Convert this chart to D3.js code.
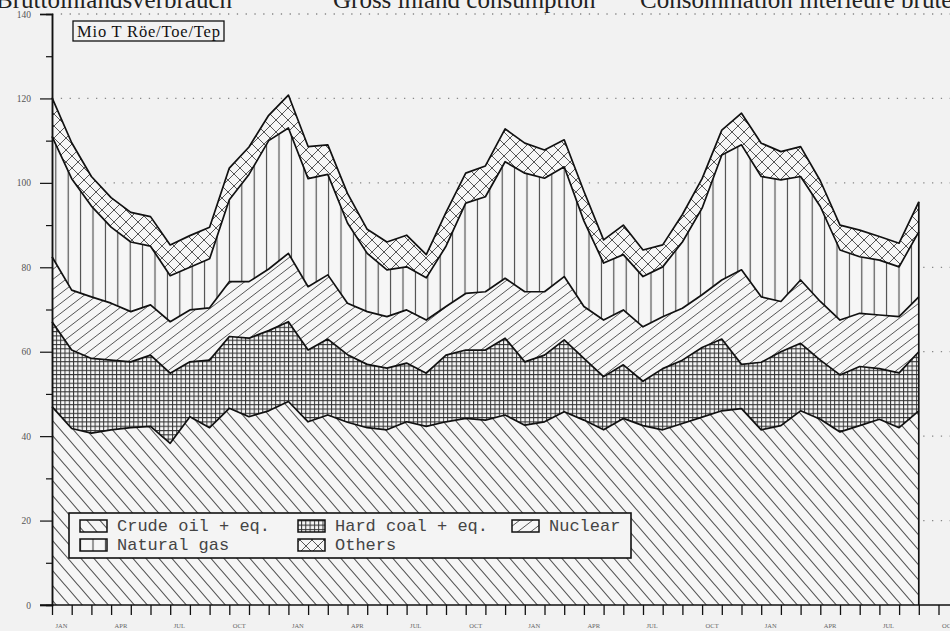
<!DOCTYPE html>
<html>
<head>
<meta charset="utf-8">
<script src="https://cdn.jsdelivr.net/npm/d3@7"></script>
<style>
  html, body { margin: 0; padding: 0; background: #f2f2f2; }
  svg { display: block; }
</style>
</head>
<body>
<svg id="chart" width="950" height="631"></svg>
<script>
// ---------- data ----------
const tickLabels = ["JAN","APR","JUL","OCT","JAN","APR","JUL","OCT","JAN","APR","JUL","OCT","JAN","APR","JUL","OCT"];
const seriesNames = ["Crude oil + eq.", "Hard coal + eq.", "Nuclear", "Natural gas", "Others"];
const crudeOil = [47,41.8,40.7,41.5,42,42.3,38.3,44.6,42,46.6,44.6,46,48.2,43.4,45,43.3,42,41.5,43.4,42.3,43.4,44.2,43.8,45,42.6,43.4,45.8,43.8,41.5,44.2,42.5,41.5,43,44.5,46,46.5,41.5,42.5,46,44,41,42.5,44,42,46];
const hardCoal = [20.1,18.6,17.7,16.5,15.6,16.9,16.6,13,16,17,18.6,19,18.9,17,18,16,15,14.6,13.9,12.6,15.8,16.2,16.6,18.2,15,15.8,17,14.6,12.6,12.7,10.5,14.5,15,16.5,17,10.5,16,17.5,16,14,13.5,14,12,13,14];
const nuclear = [15.4,14.2,14.6,13.5,11.9,11.9,12.2,12.3,12.4,13,13.4,14.6,16.2,15,15.2,12.2,12.5,12.2,12.6,12.6,11.5,13.4,13.8,14.2,16.6,15,15,12.3,13.4,13,12.9,12.3,12.3,12.5,14,22.4,15.5,11.9,15,13.9,13,12.6,12.7,13.3,13];
const naturalGas = [28.5,26.4,21.5,18,16.5,13.9,10.9,10.1,11.6,19.4,25.4,30.4,29.7,25.6,23.8,19,13.8,11.1,10.2,10,14.3,21.4,22.5,27.6,28.1,26.9,26,20.3,13.5,13.1,11.9,11.8,15.7,20.5,29.6,29.6,28.5,28.8,24.5,22.5,16.6,13.4,13,11.8,15.4];
const others = [9.2,8.5,7,7,7,7,7.3,7.5,7.5,7.5,6.5,6,7.8,7.6,7,7,5.7,6.6,7.5,5.5,8,7.1,7.3,7.8,7.1,6.7,6.4,7,5.5,7,6.3,5.2,6.5,7,5.9,7.5,7.9,6.7,7.1,6.1,5.9,6.3,5.6,5.6,7.1];
const yMajorTicks = [0,20,40,60,80,100,120,140];
const yMinorTicks = [10,30,50,70,90,110,130];
const unitLabel = "Mio T Röe/Toe/Tep";
const titles = ["Bruttoinlandsverbrauch", "Gross inland consumption", "Consommation intérieure brute"];

// ---------- build ----------
const table = crudeOil.map((d, i) => ({
  i,
  "Crude oil + eq.": crudeOil[i],
  "Hard coal + eq.": hardCoal[i],
  "Nuclear": nuclear[i],
  "Natural gas": naturalGas[i],
  "Others": others[i]
}));

const svg = d3.select("#chart");
const BG = "#f2f2f2";
const AREA_BG = "#f6f6f6";

const x = d3.scaleLinear().domain([0, 46]).range([52, 52 + 19.7 * 46]);
const y = d3.scaleLinear().domain([0, 140]).range([605, 14]);

// patterns
const defs = svg.append("defs");
function pattern(id, w, h, d, stroke, sw) {
  const p = defs.append("pattern").attr("id", id)
    .attr("patternUnits", "userSpaceOnUse").attr("width", w).attr("height", h);
  p.append("rect").attr("width", w).attr("height", h).attr("fill", AREA_BG);
  p.append("path").attr("d", d).attr("stroke", stroke).attr("stroke-width", sw).attr("fill", "none");
}
{
  const w = 13, h = 15; // "\" lines
  pattern("p-crude", w, h, `M${-w},${-h}L${2*w},${2*h}M0,${-h}L${2*w},${h}M${-w},0L${w},${2*h}`, "#555", 1.1);
}
{
  const s = 4.3;
  pattern("p-coal", s, s, `M0,0.5L${s},0.5M0.5,0L0.5,${s}`, "#333", 1.0);
}
{
  const w = 13, h = 10; // "/" lines
  pattern("p-nuc", w, h, `M${-w},${2*h}L${2*w},${-h}M${-w},${h}L${w},${-h}M0,${2*h}L${2*w},0`, "#555", 1.0);
}
{
  const w = 12.4, h = 10;
  pattern("p-gas", w, h, `M${w/2},0L${w/2},${h}`, "#444", 1.1);
}
{
  const s = 12;
  pattern("p-oth", s, s, `M${-s},${-s}L${2*s},${2*s}M0,${-s}L${2*s},${s}M${-s},0L${s},${2*s}` +
    `M${-s},${2*s}L${2*s},${-s}M${-s},${s}L${s},${-s}M0,${2*s}L${2*s},0`, "#555", 1.0);
}
const patIds = ["p-crude", "p-coal", "p-nuc", "p-gas", "p-oth"];

// title (cut at top, as in the scan)
svg.append("g").selectAll("text").data(titles).join("text")
  .attr("x", (d, i) => [-4, 333, 640][i]).attr("y", 8)
  .attr("font-family", "Liberation Serif").attr("font-size", 25)
  .attr("fill", "#222").text(d => d);

// gridlines
svg.append("g").selectAll("line").data(yMajorTicks.filter(v => v > 0)).join("line")
  .attr("x1", 52).attr("x2", 950).attr("y1", d => y(d)).attr("y2", d => y(d))
  .attr("stroke", "#888").attr("stroke-width", 1.3).attr("stroke-dasharray", "1.3,7.5");

// stacked areas
const stack = d3.stack().keys(seriesNames);
const layers = stack(table);
const area = d3.area().x(d => x(d.data.i)).y0(d => y(d[0])).y1(d => y(d[1]));
const line = d3.line().x(d => x(d.data.i)).y(d => y(d[1]));

svg.append("g").selectAll("path").data(layers).join("path")
  .attr("d", area).attr("fill", (d, i) => `url(#${patIds[i]})`);
svg.append("g").selectAll("path").data(layers).join("path")
  .attr("d", line).attr("fill", "none").attr("stroke", "#111").attr("stroke-width", 1.7)
  .attr("stroke-linejoin", "round");
// right edge
const last = table.length - 1;
svg.append("line").attr("x1", x(last)).attr("x2", x(last))
  .attr("y1", y(0)).attr("y2", y(layers[4][last][1]))
  .attr("stroke", "#111").attr("stroke-width", 1.7);

// axes
const yMajor = d3.axisLeft(y).tickValues(yMajorTicks).tickSize(12).tickPadding(9);
const yMinor = d3.axisLeft(y).tickValues(yMinorTicks).tickSize(6).tickFormat("");
const gy = svg.append("g").attr("transform", "translate(52,0)").call(yMajor);
svg.append("g").attr("transform", "translate(52,0)").call(yMinor);
gy.selectAll("text").attr("font-family", "Liberation Serif").attr("font-size", 9.5).attr("fill", "#555");
svg.selectAll(".domain").attr("stroke", "#111").attr("stroke-width", 1.5);
svg.selectAll(".tick line").attr("stroke", "#111").attr("stroke-width", 1.2);

const xAxis = d3.axisBottom(x).tickValues(d3.range(0, 47)).tickSize(10)
  .tickFormat(i => (i % 3 === 0 && tickLabels[i / 3]) ? tickLabels[i / 3] : "");
const gx = svg.append("g").attr("transform", `translate(0,${y(0)})`).call(xAxis);
gx.select(".domain").attr("d", `M40,0H950`).attr("stroke", "#111").attr("stroke-width", 1.6);
gx.selectAll(".tick line").attr("stroke", "#111").attr("stroke-width", 1.3);
gx.selectAll("text").attr("font-family", "Liberation Serif").attr("font-size", 6.5)
  .attr("fill", "#666").attr("text-anchor", "start").attr("dx", 3).attr("dy", 10);

// unit box
svg.append("rect").attr("x", 73).attr("y", 21).attr("width", 151).attr("height", 20)
  .attr("fill", BG).attr("stroke", "#111").attr("stroke-width", 1.3);
svg.append("text").attr("x", 77).attr("y", 36.5).attr("font-family", "Liberation Serif")
  .attr("font-size", 16.5).attr("fill", "#111").attr("textLength", 143).text(unitLabel);

// legend
const lg = svg.append("g");
lg.append("rect").attr("x", 69).attr("y", 513).attr("width", 562).attr("height", 45)
  .attr("fill", "#f4f4f4").attr("stroke", "#111").attr("stroke-width", 1.6);
const legendPos = [[80, 520], [298, 520], [512, 520], [80, 539], [298, 539]];
seriesNames.forEach((name, i) => {
  const [lx, ly] = legendPos[i];
  lg.append("rect").attr("x", lx).attr("y", ly).attr("width", 27).attr("height", 12)
    .attr("fill", `url(#${patIds[i]})`).attr("stroke", "#111").attr("stroke-width", 1.5);
  lg.append("text").attr("x", lx + 37).attr("y", ly + 11)
    .attr("font-family", "Liberation Mono").attr("font-size", 17).attr("fill", "#444")
    .text(name);
});
</script>
</body>
</html>
